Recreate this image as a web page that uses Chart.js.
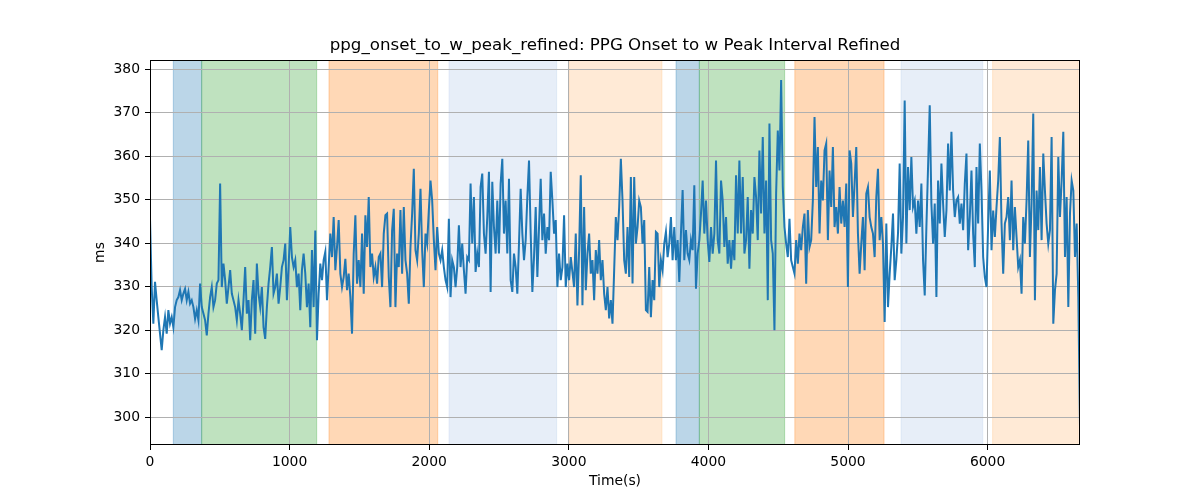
<!DOCTYPE html>
<html>
<head>
<meta charset="utf-8">
<script src="https://cdn.jsdelivr.net/npm/chart.js@4/dist/chart.umd.min.js"></script>
<style>
  body { margin: 0; background: #fff; }
  #wrap { width: 1200px; height: 500px; }
</style>
</head>
<body>
<div id="wrap"><canvas id="myChart" width="1200" height="500"></canvas></div>
<script>
const titleText = 'ppg_onset_to_w_peak_refined: PPG Onset to w Peak Interval Refined';
const xLabel = 'Time(s)';
const yLabel = 'ms';

// seconds between samples
const sampleInterval = 11.96;

// ms values
const intervalMs = [
    345.6, 329.9, 321.5, 331.1, 326.9, 323.0, 319.2, 315.4, 320.0, 323.0,
    319.2, 324.6, 321.5, 323.0, 320.7, 325.3, 326.9, 327.6, 329.2, 326.9,
    328.4, 329.5, 326.9, 328.8, 326.1, 326.9, 325.3, 322.6, 324.6, 322.3,
    330.7, 325.3, 323.8, 322.3, 318.8, 323.8, 327.6, 329.9, 325.3, 326.9,
    330.7, 331.5, 353.7, 329.9, 335.3, 331.5, 326.1, 329.9, 333.8, 328.4,
    326.9, 325.3, 322.3, 326.9, 323.8, 320.0, 326.9, 334.5, 323.8, 326.9,
    317.7, 326.9, 331.5, 319.2, 335.3, 328.4, 325.3, 329.9, 320.7, 318.0,
    325.3, 330.7, 334.5, 339.1, 328.4, 329.9, 333.0, 326.1, 329.9, 334.5,
    336.1, 339.9, 326.9, 334.5, 343.7, 336.8, 334.5, 336.1, 329.9, 333.0,
    324.6, 333.8, 337.6, 333.0, 325.3,
    330.7, 320.7, 338.4, 325.3, 342.9, 317.7, 328.4, 335.3, 331.5, 336.1,
    338.0, 326.9, 334.5, 342.2, 336.8, 346.0, 333.8, 339.1, 345.3, 333.0,
    329.9, 332.2, 336.4, 329.2, 333.0, 327.6, 319.2, 337.6, 346.4, 330.7,
    336.1, 329.9, 342.2, 328.4, 346.4, 339.1, 350.6, 334.5, 337.6, 332.2,
    334.5, 330.7, 336.8, 337.6, 329.9, 342.2, 346.4, 346.8, 332.2, 325.3,
    342.9, 347.9, 325.3, 337.6, 334.5, 347.6, 333.0, 348.3, 336.1, 333.0,
    326.1, 339.1, 346.8, 357.1, 338.4, 336.1, 342.2, 352.5, 338.4, 329.9,
    342.2, 339.9, 347.6, 354.4, 349.8, 340.7, 333.8, 343.7, 337.6, 336.1,
    338.4, 334.5, 331.5, 329.9, 345.6, 327.6, 336.1, 334.5, 329.9, 334.5,
    344.1, 334.5, 339.9, 333.8,
    328.4, 336.8, 336.1, 353.7, 339.9, 350.6, 333.4, 337.6, 334.5, 352.9,
    356.0, 342.2, 337.6, 346.0, 356.4, 328.8, 354.1, 343.7, 337.6, 349.8,
    337.6, 353.7, 359.4, 342.2, 349.8, 337.6, 354.8, 331.5, 328.8, 337.6,
    334.5, 328.4, 339.9, 352.5, 342.2, 336.1, 340.7, 350.6, 359.0, 342.2,
    328.8, 336.8, 348.3, 332.2, 343.7, 354.8, 340.7, 346.8, 337.6, 343.7,
    340.7, 356.4, 349.8, 342.2, 345.3, 329.9, 337.6, 331.5, 334.5, 346.4,
    329.9, 335.3, 331.5, 336.8, 333.4, 329.9, 342.2, 325.7, 338.4, 355.6,
    325.7, 348.3, 329.2, 337.6, 342.2, 333.0, 336.1, 326.9, 338.4, 333.0,
    340.7, 331.5, 336.1, 328.4, 324.6, 329.9, 322.7, 326.9, 321.5, 333.8,
    346.0, 340.7, 348.3,
    359.4, 349.8, 336.1, 333.0, 343.7, 332.2, 355.2, 330.7, 355.2, 339.9,
    343.7, 349.8, 348.3, 339.9, 345.3, 324.6, 324.2, 334.5, 323.0, 331.5,
    326.9, 342.6, 342.2, 329.9, 336.1, 333.8, 339.9, 342.6, 336.8, 339.9,
    346.0, 336.1, 343.7, 336.1, 340.7, 331.1, 342.2, 352.2, 336.1, 343.0,
    337.6, 336.1, 340.7, 338.4, 353.3, 329.5, 337.6, 340.7, 346.8, 354.4,
    342.2, 349.8, 340.7, 335.7, 343.7, 337.6, 342.2, 359.0, 340.7, 337.6,
    354.4, 349.8, 339.1, 346.0, 335.3, 340.7, 334.1, 340.7, 336.1, 355.6,
    342.2, 359.0, 342.2, 355.2, 337.6, 340.7, 350.6, 334.1, 347.6, 342.2,
    355.2, 350.6, 340.7, 361.3, 346.8, 364.4, 342.2, 354.4, 326.9, 367.5,
    340.7, 337.6, 320.0,
    351.4, 365.9, 356.7, 377.5, 352.9, 343.7, 339.9, 336.8, 345.6, 336.1,
    334.5, 333.0, 340.7, 335.3, 342.2, 338.4, 343.7, 346.8, 330.7, 347.6,
    339.1, 340.7, 349.8, 369.0, 352.9, 362.1, 342.2, 354.4, 349.8, 361.3,
    362.9, 340.7, 356.7, 348.3, 362.1, 343.7, 348.3, 342.2, 352.9, 344.5,
    349.8, 343.7, 353.7, 329.9, 361.3, 358.3, 346.0, 353.7, 362.1, 342.2,
    333.0, 339.9, 346.0, 333.8, 351.4, 352.9, 346.0, 343.7, 342.2, 336.8,
    350.6, 357.1, 340.7, 346.0, 339.9, 321.9, 344.5, 325.3, 333.0, 339.1,
    346.8, 331.5, 336.1, 342.2, 358.3, 337.6, 346.0, 372.8, 339.9, 357.5,
    347.6, 359.8, 348.3, 349.8, 342.2, 349.8, 343.7, 353.7, 336.1, 328.0,
    343.7, 357.5, 371.7,
    349.1, 339.9, 349.1, 327.6, 354.4, 344.5, 358.3, 349.1, 341.4, 347.5,
    362.9, 352.1, 365.6, 352.1, 346.0, 349.8, 350.6, 344.5, 349.1, 343.0,
    353.7, 360.6, 338.4, 346.0, 356.7, 342.2, 334.5, 357.5, 344.5, 362.9,
    352.1, 336.8, 332.2, 329.9, 344.5, 356.7, 338.4, 347.5, 341.4, 348.3,
    354.4, 364.4, 344.5, 333.0, 344.5, 346.0, 350.6, 340.7, 354.4, 338.4,
    348.3, 341.4, 334.5, 336.1, 328.4, 346.0, 339.9, 349.8, 363.6, 336.8,
    349.1, 369.8, 326.9, 352.1, 343.0, 357.5, 340.7, 360.6, 352.1, 344.5,
    339.9, 343.0, 364.4, 321.5, 329.2, 333.0, 359.8, 346.0, 354.4, 365.6,
    336.8, 350.6, 325.3, 346.8, 354.4, 352.1, 336.8, 344.5, 327.6, 297.7
];

// shaded phases (seconds)
const spanStarts = [167, 370, 1282, 2142, 3003, 3768, 3935, 4619, 5380, 6036];
const spanEnds   = [370, 1194, 2061, 2913, 3667, 3935, 4546, 5258, 5965, 6649];
const spanColors = [
    'rgba(31,119,180,0.3)', 'rgba(44,160,44,0.3)', 'rgba(255,127,14,0.3)',
    'rgba(174,199,232,0.3)', 'rgba(255,187,120,0.3)',
    'rgba(31,119,180,0.3)', 'rgba(44,160,44,0.3)', 'rgba(255,127,14,0.3)',
    'rgba(174,199,232,0.3)', 'rgba(255,187,120,0.3)'
];

const xTicks = [0, 1000, 2000, 3000, 4000, 5000, 6000];
const yTicks = [300, 310, 320, 330, 340, 350, 360, 370, 380];
const yMin = 293.6;
const yMax = 382.1;

const points = intervalMs.map((v, i) => ({ x: i * sampleInterval, y: v }));
const lastTime = points[points.length - 1].x;

Chart.defaults.font.family = 'DejaVu Sans';
Chart.defaults.color = '#000';

const spansPlugin = {
    id: 'spans',
    beforeDraw(chart) {
        const { ctx, chartArea, scales } = chart;
        ctx.save();
        ctx.beginPath();
        ctx.rect(chartArea.left, chartArea.top, chartArea.right - chartArea.left, chartArea.bottom - chartArea.top);
        ctx.clip();
        for (let i = 0; i < spanStarts.length; i++) {
            const x0 = scales.x.getPixelForValue(spanStarts[i]);
            const x1 = scales.x.getPixelForValue(spanEnds[i]);
            ctx.fillStyle = spanColors[i];
            ctx.fillRect(x0, chartArea.top, x1 - x0, chartArea.bottom - chartArea.top);
            ctx.strokeStyle = spanColors[i];
            ctx.lineWidth = 1;
            ctx.strokeRect(x0, chartArea.top, x1 - x0, chartArea.bottom - chartArea.top);
        }
        ctx.restore();
    }
};

// axes box on all four sides
const framePlugin = {
    id: 'frame',
    afterDraw(chart) {
        const { ctx, chartArea } = chart;
        ctx.save();
        ctx.strokeStyle = '#000';
        ctx.lineWidth = 1;
        const l = Math.round(chartArea.left) + 0.5;
        const t = Math.round(chartArea.top) + 0.5;
        const r = Math.round(chartArea.right) - 0.5;
        const b = Math.round(chartArea.bottom) - 0.5;
        ctx.strokeRect(l, t, r - l, b - t);
        ctx.restore();
    }
};

const chart = new Chart(document.querySelector('#myChart'), {
    type: 'line',
    data: {
        datasets: [{
            data: points,
            borderColor: '#1f77b4',
            borderWidth: 2,
            pointRadius: 0,
            tension: 0,
            fill: false
        }]
    },
    options: {
        responsive: false,
        animation: false,
        parsing: false,
        layout: { padding: { left: 0, right: 120, top: 0, bottom: 0 } },
        plugins: {
            legend: { display: false },
            tooltip: { enabled: false },
            title: {
                display: true,
                text: titleText,
                fullSize: false,
                font: { size: 16.67, weight: 'normal' },
                color: '#000',
                padding: { top: 35.5, bottom: 4.5 }
            }
        },
        scales: {
            x: {
                type: 'linear',
                min: 0,
                max: lastTime,
                afterFit: s => { s.height = 55; },
                afterBuildTicks: s => { s.ticks = xTicks.map(v => ({ value: v })); },
                grid: { color: '#b0b0b0', lineWidth: 1, tickColor: '#000', tickLength: 5 },
                border: { display: false },
                ticks: {
                    font: { size: 13.9 }, color: '#000', padding: 4, maxRotation: 0, autoSkip: false,
                    callback: v => String(v)
                },
                title: { display: true, text: xLabel, font: { size: 13.9 }, color: '#000', padding: { top: 0, bottom: 10.5 } }
            },
            y: {
                type: 'linear',
                min: yMin,
                max: yMax,
                afterFit: s => { s.width = 150; },
                afterBuildTicks: s => { s.ticks = yTicks.map(v => ({ value: v })); },
                grid: { color: '#b0b0b0', lineWidth: 1, tickColor: '#000', tickLength: 5 },
                border: { display: false },
                ticks: { font: { size: 13.9 }, color: '#000', padding: 5, callback: v => String(v) },
                title: { display: true, text: yLabel, font: { size: 13.9 }, color: '#000', padding: { top: 92.5, bottom: 0 } }
            }
        }
    },
    plugins: [spansPlugin, framePlugin]
});
</script>
</body>
</html>
